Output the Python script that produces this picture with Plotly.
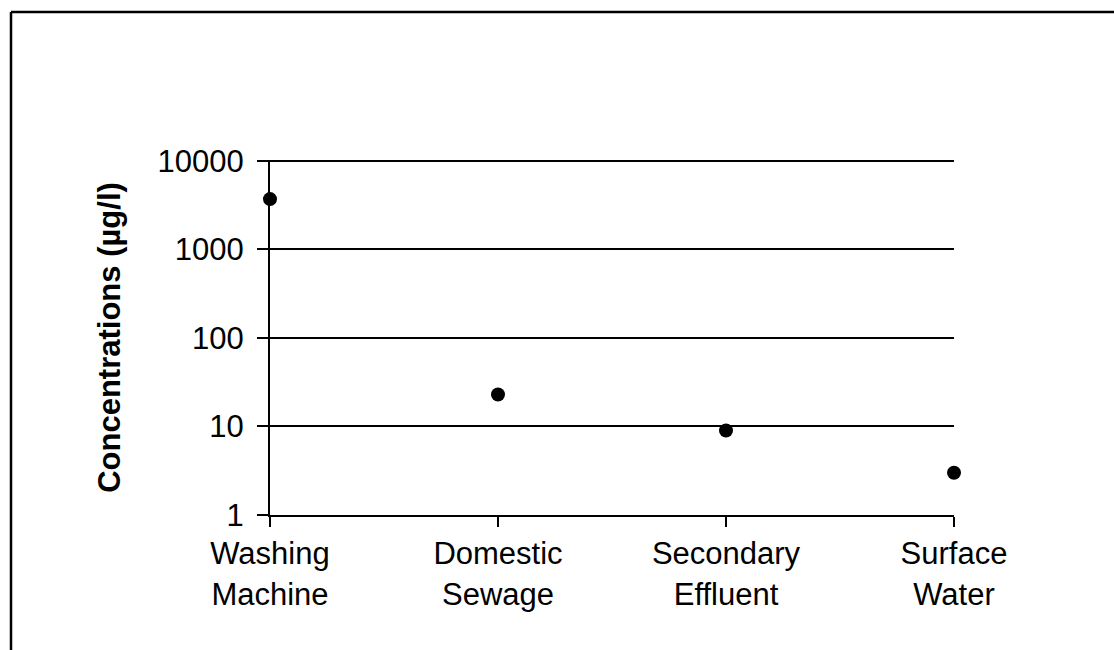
import plotly.graph_objects as go

categories = ["Washing Machine", "Domestic Sewage", "Secondary Effluent", "Surface Water"]
concentrations = [3700, 23, 9, 3]
y_tick_values = [1, 10, 100, 1000, 10000]
y_tick_labels = ["1", "10", "100", "1000", "10000"]
y_title = "Concentrations (µg/l)"

x_labels = [c.replace(" ", "<br>") for c in categories]

W, H = 1114, 650
ML, MR, MT, MB = 270, 160, 160, 135
pw = W - ML - MR
ph = H - MT - MB

def px_x(X):
    return (X - ML) / pw

def px_y(Y):
    return (H - MB - Y) / ph

fig = go.Figure()
fig.add_trace(go.Scatter(
    x=x_labels, y=concentrations, mode="markers",
    marker=dict(color="black", size=14),
    cliponaxis=False, showlegend=False,
))

font = dict(family="Liberation Sans, Arial, sans-serif", size=31, color="black")
title_font = dict(family="Liberation Sans, Arial, sans-serif", size=31, color="black")

fig.update_layout(
    width=W, height=H,
    margin=dict(l=ML, r=MR, t=MT, b=MB),
    paper_bgcolor="white", plot_bgcolor="white",
    font=font,
    xaxis=dict(
        type="category", range=[0, len(categories) - 1],
        showline=True, linecolor="black", linewidth=2,
        ticks="outside", ticklen=10, tickwidth=2, tickcolor="black",
        showgrid=False, zeroline=False,
        tickfont=font,
    ),
    yaxis=dict(
        type="log", range=[0, 4.01],
        tickvals=y_tick_values, ticktext=y_tick_labels,
        showline=True, linecolor="black", linewidth=2,
        ticks="outside", ticklen=11, tickwidth=2, tickcolor="black",
        showgrid=True, gridcolor="black", gridwidth=2,
        zeroline=False,
        tickfont=font,
        ticklabelstandoff=7,
        title=dict(text="<b>" + y_title + "</b>", font=title_font, standoff=28),
    ),
    shapes=[
        dict(type="line", xref="x domain", yref="y",
             x0=0, x1=1, y0=y_tick_values[-1], y1=y_tick_values[-1],
             line=dict(color="black", width=2), layer="below"),
        dict(type="line", xref="paper", yref="paper",
             x0=px_x(11), x1=px_x(W + 5), y0=px_y(12), y1=px_y(12),
             line=dict(color="black", width=2.5)),
        dict(type="line", xref="paper", yref="paper",
             x0=px_x(11), x1=px_x(11), y0=px_y(12), y1=px_y(H + 5),
             line=dict(color="black", width=2.5)),
    ],
)

fig.write_html("out.html")
